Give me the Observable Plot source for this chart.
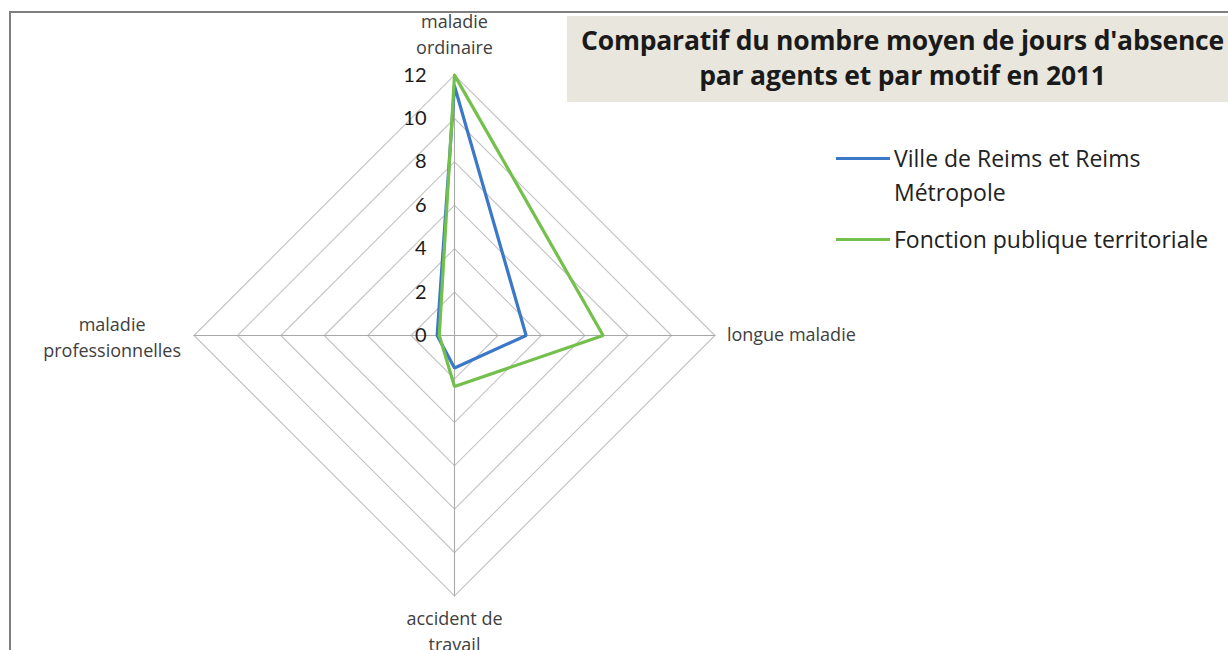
<!DOCTYPE html>
<html><head><meta charset="utf-8">
<script src="https://cdn.jsdelivr.net/npm/d3@7"></script>
<script src="https://cdn.jsdelivr.net/npm/@observablehq/plot@0.6"></script>
<style>
html,body{margin:0;padding:0;background:#fff;}
#wrap{position:relative;width:1228px;height:650px;overflow:hidden;font-family:"Open Sans",Lato,sans-serif;}
#frameTop{position:absolute;left:9px;top:11px;width:1219px;height:2px;background:#7f7f7f;}
#frameLeft{position:absolute;left:9px;top:11px;width:2px;height:639px;background:#7f7f7f;}
#title{position:absolute;left:567px;top:16px;width:661px;height:86px;background:#e8e6dd;box-sizing:border-box;padding-top:7px;padding-left:10px;
  font-weight:bold;font-size:26.5px;line-height:35px;color:#1a1a1a;text-align:center;white-space:nowrap;letter-spacing:-0.2px;}
#legend{position:absolute;left:836px;top:141px;font-size:23px;color:#222;line-height:34px;}
.li{display:flex;align-items:flex-start;margin-bottom:13px;}
.sw{width:54px;height:3px;margin-top:16px;margin-right:4px;flex:none;}
</style></head>
<body><div id="wrap"><div id="chart"></div>
<div id="frameTop"></div><div id="frameLeft"></div>
<div id="title"></div><div id="legend"></div></div>
<script>
const titleLines = ["Comparatif du nombre moyen de jours d'absence", "par agents et par motif en 2011"];
const axes = ["maladie\nordinaire", "longue maladie", "accident de\ntravail", "maladie\nprofessionnelles"];
const seriesNames = ["Ville de Reims et Reims\nMétropole", "Fonction publique territoriale"];
const reims = [11.5, 3.3, 1.5, 0.8];
const fpt = [12.0, 6.85, 2.35, 0.7];
const ticks = [0, 2, 4, 6, 8, 10, 12];
const colors = ["#3b78c8", "#74c04c"];

const maxV = 12;
const ang = i => Math.PI / 2 - i * Math.PI / 2;
const pt = (v, i) => ({x: v * Math.cos(ang(i)), y: v * Math.sin(ang(i))});

const rings = [];
ticks.filter(t => t > 0).forEach(t => {
  for (let i = 0; i <= axes.length; i++) rings.push({ring: t, ...pt(t, i % axes.length)});
});
const spokes = [];
axes.forEach((a, i) => { spokes.push({k: i, x: 0, y: 0}); spokes.push({k: i, ...pt(maxV, i)}); });
const seriesData = [];
[reims, fpt].forEach((vals, s) => {
  for (let i = 0; i <= vals.length; i++) seriesData.push({s, ...pt(vals[i % vals.length], i % vals.length)});
});
const labels = axes.map((a, i) => ({text: a, i, ...pt(maxV, i)}));
const tickData = ticks.map(t => ({t, x: 0, y: t}));

const unit = 21.7;
const cx = 454, cy = 335;
const lf = "'Open Sans', Lato, sans-serif";
const chart = Plot.plot({
  width: 1228, height: 650,
  margin: 0,
  x: {domain: [-cx / unit, (1228 - cx) / unit], axis: null},
  y: {domain: [-(650 - cy) / unit, cy / unit], axis: null},
  style: {fontFamily: "Lato, 'Open Sans', sans-serif", background: "white"},
  marks: [
    Plot.line(rings, {x: "x", y: "y", z: "ring", stroke: "#c4c4c4", strokeWidth: 1.1}),
    Plot.line(spokes, {x: "x", y: "y", z: "k", stroke: "#a8a8a8", strokeWidth: 1.1}),
    Plot.line(seriesData, {x: "x", y: "y", z: "s", stroke: d => colors[d.s], strokeWidth: 3.2, strokeLinejoin: "miter"}),
    Plot.text(tickData, {x: "x", y: "y", text: d => String(d.t), textAnchor: "end", dx: -28, fontSize: 20, fill: "#1a1a1a"}),
    Plot.text(labels.filter(d => d.i === 0), {x: "x", y: "y", text: "text", dy: -42, fontSize: 18, lineHeight: 1.45, fill: "#404040", fontFamily: lf}),
    Plot.text(labels.filter(d => d.i === 1), {x: "x", y: "y", text: "text", textAnchor: "start", dx: 12, fontSize: 18, fill: "#404040", fontFamily: lf}),
    Plot.text(labels.filter(d => d.i === 2), {x: "x", y: "y", text: "text", dy: 34, fontSize: 18, lineHeight: 1.45, fill: "#404040", fontFamily: lf}),
    Plot.text(labels.filter(d => d.i === 3), {x: "x", y: "y", text: "text", dx: -82, fontSize: 18, lineHeight: 1.45, fill: "#404040", fontFamily: lf})
  ]
});
document.getElementById("chart").appendChild(chart);
document.getElementById("title").innerHTML = titleLines.join("<br>");
document.getElementById("legend").innerHTML = seriesNames.map((n, i) =>
  `<div class="li"><div class="sw" style="background:${colors[i]}"></div><div>${n.replace("\n", "<br>")}</div></div>`).join("");
</script></body></html>
